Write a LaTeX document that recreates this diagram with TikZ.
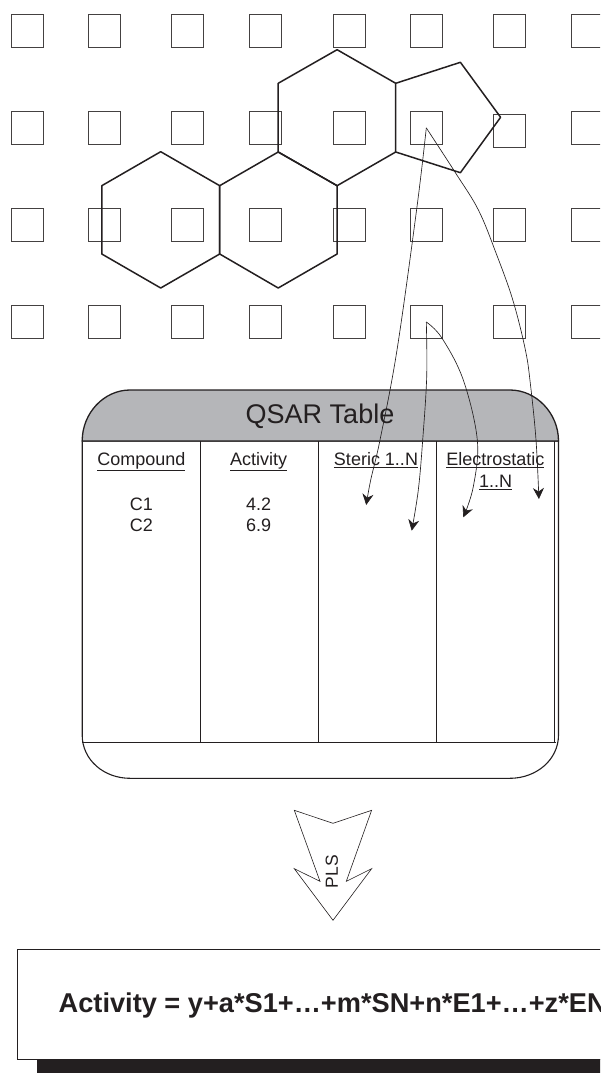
\documentclass[tikz,border=0pt]{standalone}
\usepackage{fontspec}
\setmainfont{Liberation Sans}
\usetikzlibrary{arrows.meta}
\definecolor{ink}{HTML}{231F20}
\definecolor{hdr}{HTML}{B5B6B9}
\tikzset{
  gridsq/.style={draw=ink!85,line width=1pt,minimum width=32pt,minimum height=32.5pt,inner sep=0pt,outer sep=0pt},
  ring/.style={draw=ink,line width=1.5pt,line join=round},
  tablerule/.style={draw=ink,line width=1.1pt},
  lbl/.style={text=ink,font=\fontsize{18}{22}\selectfont,anchor=base,inner sep=0pt},
  link/.style={draw=ink,line width=0.65pt,-{Stealth[length=11pt,width=11pt,inset=3.5pt]}},
}
\begin{document}
\begin{tikzpicture}[x=1pt,y=-1pt]
\useasboundingbox (0,0) rectangle (600,1073);
\clip (0,0) rectangle (600,1073);
% grid of squares
\foreach \c/\x in {1/27.5,2/104.5,3/187.8,4/265.5,5/349,6/426.3,7/509.6,8/587}{
  \foreach \r/\y in {1/30.8,3/225,4/322}{
    \node[gridsq] (sq\c\r) at (\x,\y) {};
  }
}
\foreach \c/\x in {1/27.5,2/104.5,3/187.8,4/265.5,5/349,6/426.3,8/587}{
  \node[gridsq] (sq\c2) at (\x,127.9) {};
}
\node[gridsq] (sq72) at (509.6,131.2) {};
% rings
\draw[ring] (337.1,49.7) -- (395.7,83.3) -- (395.7,152) -- (337.1,185.7) -- (278.2,152) -- (278.2,83.3) -- cycle;
\draw[ring] (278.2,152) -- (337.1,185.7) -- (337.1,254) -- (278.2,288) -- (219.7,254) -- (219.7,185.7) -- cycle;
\draw[ring] (160.7,151.7) -- (219.7,185.7) -- (219.7,254) -- (160.7,288) -- (101.8,254) -- (101.8,185.7) -- cycle;
\draw[ring] (395.7,83.3) -- (460.4,62.3) -- (500.6,117.3) -- (460.4,172.7) -- (395.7,152);
% table
\path[fill=white,draw=ink,line width=1.1pt] (82.2,441) -- (82.2,735) .. controls (82.2,760) and (104,778.3) .. (130,778.3) -- (510,778.3) .. controls (536,778.3) and (558.5,760) .. (558.5,735) -- (558.5,441) -- cycle;
\path[fill=hdr,draw=ink,line width=1.3pt] (82.2,441) .. controls (82.2,413) and (104,390) .. (130,390) -- (510,390) .. controls (536,390) and (558.5,413) .. (558.5,441) -- cycle;
\draw[tablerule] (82.2,742.7) -- (555.7,742.7);
\foreach \x in {200.2,318.3,436.2,554.9}{
  \draw[tablerule] (\x,441) -- (\x,742.7);
}
\node[lbl,font=\fontsize{27}{30}\selectfont] (title) at (320,423.5) {QSAR Table};
\node[lbl] (h1) at (141.3,465.5) {\underline{Compound}};
\node[lbl] (h2) at (258.6,465.5) {\underline{Activity}};
\node[lbl] (h3) at (376,465.5) {\underline{Steric 1..N}};
\node[lbl] (h4) at (495.3,465.5) {\underline{Electrostatic}};
\node[lbl] (h4b) at (495.6,487.5) {\underline{1..N}};
\node[lbl] (c1) at (141.3,510) {C1};
\node[lbl] (c2) at (141.3,531.7) {C2};
\node[lbl] (a1) at (258.6,510) {4.2};
\node[lbl] (a2) at (258.6,531.7) {6.9};
% links
\coordinate (e1) at (366.2,505);
\coordinate (e2) at (538.9,499);
\coordinate (e3) at (411.7,530.7);
\coordinate (e4) at (463.3,517.3);
\draw[link] plot[smooth,tension=0.6] coordinates {(sq62.center) (417,206.7) (397,350) (380,440) (370.7,480) (e1)};
\draw[link] plot[smooth,tension=0.6] coordinates {(sq62.center) (455.4,172.7) (478.4,210) (496,253) (512.8,300) (525.4,350) (530.5,385) (536,440) (e2)};
\draw[link] plot[smooth,tension=0.6] coordinates {(sq64.center) (426.7,376.7) (422.7,440) (418.3,490) (e3)};
\draw[link] plot[smooth,tension=0.6] coordinates {(sq64.center) (441.9,338) (463.3,380) (477.3,440) (473.3,486.7) (e4)};
% PLS arrow
\draw[draw=ink,line width=0.6pt,line join=miter] (294.3,810.3) -- (333,823.3) -- (371.6,810.3) -- (346.3,881.3) -- (371.6,868.7) -- (333,920.3) -- (294.3,868.7) -- (320,881.3) -- cycle;
\node[text=ink,font=\fontsize{17.5}{20}\selectfont,rotate=90,inner sep=0pt] (pls) at (331.8,871.7) {PLS};
% equation box
\fill[ink] (37,1059.3) rectangle (620,1080);
\draw[draw=ink,line width=0.7pt,fill=white] (17.6,949.3) rectangle (620,1059.3);
\node[text=ink,font=\fontsize{27.2}{30}\selectfont\bfseries,anchor=base west,inner sep=0pt] (eq) at (58.5,1012.7) {Activity = y+a*S1+…+m*SN+n*E1+…+z*EN};
\end{tikzpicture}
\end{document}
